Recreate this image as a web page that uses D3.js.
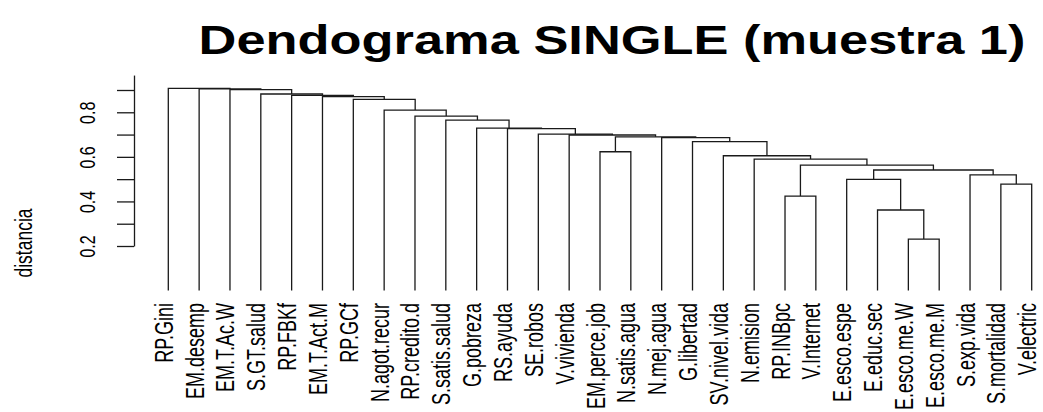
<!DOCTYPE html>
<html><head><meta charset="utf-8">
<script src="https://cdn.jsdelivr.net/npm/d3@7"></script>
<style>body{margin:0;background:#fff} svg{display:block}</style>
</head><body>
<svg id="chart" width="1043" height="412"></svg>
<script>
// ---- data ----
const chartTitle = "Dendograma SINGLE (muestra 1)";
const yAxisLabel = "distancia";
const leafOrder = ["RP.Gini","EM.desemp","EM.T.Ac.W","S.GT.salud","RP.FBKf","EM.T.Act.M","RP.GCf",
  "N.agot.recur","RP.credito.d","S.satis.salud","G.pobreza","RS.ayuda","SE.robos","V.vivienda",
  "EM.perce.job","N.satis.agua","N.mej.agua","G.libertad","SV.nivel.vida","N.emision","RP.INBpc",
  "V.Internet","E.esco.espe","E.educ.sec","E.esco.me.W","E.esco.me.M","S.exp.vida","S.mortalidad","V.electric"];
// merge steps (numbers refer to earlier merge steps, 1-based; strings are leaves)
const mergePairs = [
  ["E.esco.me.W","E.esco.me.M"], ["E.educ.sec",1], ["RP.INBpc","V.Internet"], ["S.mortalidad","V.electric"],
  ["E.esco.espe",2], ["S.exp.vida",4], [5,6], [3,7], ["N.emision",8], ["SV.nivel.vida",9],
  ["EM.perce.job","N.satis.agua"], ["G.libertad",10], ["N.mej.agua",12], [11,13], ["V.vivienda",14],
  ["SE.robos",15], ["RS.ayuda",16], ["G.pobreza",17], ["S.satis.salud",18], ["RP.credito.d",19],
  ["N.agot.recur",20], ["RP.GCf",21], ["EM.T.Act.M",22], ["RP.FBKf",23], ["S.GT.salud",24],
  ["EM.T.Ac.W",25], ["EM.desemp",26], ["RP.Gini",27]];
const mergeHeights = [0.231,0.3615,0.424,0.478,0.499,0.519,0.541,0.563,0.590,0.605,
  0.623,0.668,0.686,0.690,0.698,0.702,0.727,0.729,0.765,0.783,
  0.810,0.858,0.870,0.876,0.882,0.902,0.905,0.907];
const yTicks = [0.2,0.3,0.4,0.5,0.6,0.7,0.8,0.9];
const yTickLabels = ["0.2","","0.4","","0.6","","0.8",""];

// ---- build tree ----
const nodes = [];
mergePairs.forEach((pair, i) => {
  const kids = pair.map(p => typeof p === "number" ? nodes[p - 1] : {name: p, height: 0});
  nodes.push({name: "m" + (i + 1), height: mergeHeights[i], children: kids});
});
const root = d3.hierarchy(nodes[nodes.length - 1]);
d3.cluster().separation(() => 1).size([1, 1])(root);
const leaves = root.leaves();

const svg = d3.select("#chart");
const x = d3.scaleLinear().domain(d3.extent(leaves, d => d.x)).range([168.3, 1031.7]);
const y = d3.scaleLinear().domain([0.2, 0.9]).range([246, 90]);
const stretch = 1.38;
const font = "'Liberation Sans', Arial, Helvetica, sans-serif";

// title
svg.append("text")
  .attr("transform", `translate(612,54) scale(${1.31},1)`)
  .attr("text-anchor", "middle")
  .style("font-family", font).style("font-weight", "bold").style("font-size", "40px")
  .attr("fill", "#000").text(chartTitle);

// links
const g = svg.append("g");
root.descendants().filter(d => d.children).forEach(d => {
  const [a, b] = d.children;
  g.append("path")
    .attr("d", `M${x(a.x)},${y(a.data.height)}V${y(d.data.height)}H${x(b.x)}V${y(b.data.height)}`)
    .attr("fill", "none").attr("stroke", "#1a1a1a").attr("stroke-width", 1.3);
});

// leaf labels
svg.append("g").selectAll("text").data(leaves).join("text")
  .attr("transform", d => `translate(${x(d.x) + 4.5},303) rotate(-90) scale(1,${stretch})`)
  .attr("text-anchor", "end")
  .style("font-family", font).style("font-size", "18px").attr("fill", "#000")
  .text(d => d.data.name);

// y axis
const yAxisScale = y.copy().domain([0.2, 0.967]).range([246, y(0.967)]);
const axisG = svg.append("g").attr("transform", "translate(134,0)")
  .call(d3.axisLeft(yAxisScale).tickValues(yTicks).tickSize(17).tickSizeOuter(0)
    .tickFormat((d, i) => yTickLabels[i]));
axisG.select(".domain").attr("stroke", "#1a1a1a").attr("stroke-width", 1.3);
axisG.selectAll(".tick line").attr("stroke", "#1a1a1a").attr("stroke-width", 1.3);
axisG.selectAll(".tick text")
  .attr("x", null).attr("dy", null)
  .attr("transform", `translate(-39,0) rotate(-90) scale(1,${stretch})`)
  .attr("text-anchor", "middle")
  .style("font-family", font).style("font-size", "16px").attr("fill", "#000");

// y axis title
svg.append("text")
  .attr("transform", `translate(31.5,243) rotate(-90) scale(1,${stretch})`)
  .attr("text-anchor", "middle")
  .style("font-family", font).style("font-size", "17.5px").attr("fill", "#000")
  .text(yAxisLabel);
</script>
</body></html>
